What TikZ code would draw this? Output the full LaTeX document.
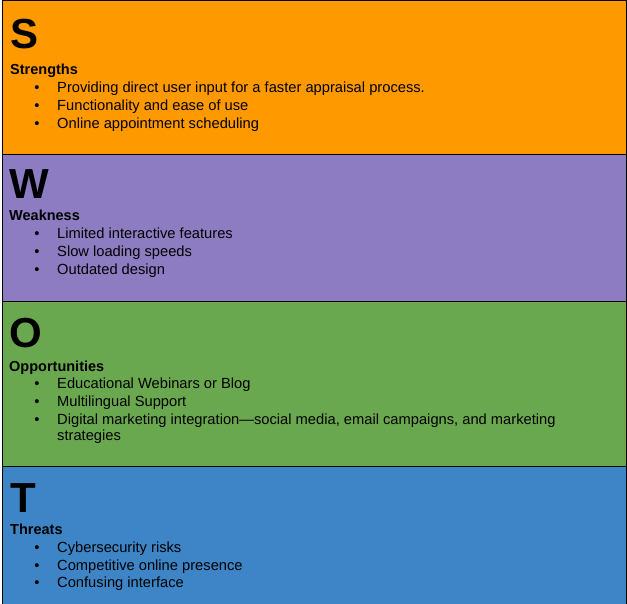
\documentclass[tikz,border=0pt]{standalone}
\usepackage{fontspec}
\setmainfont{Liberation Sans}
\definecolor{sOrange}{HTML}{FF9900}
\definecolor{wPurple}{HTML}{8E7CC3}
\definecolor{oGreen}{HTML}{6AA84F}
\definecolor{tBlue}{HTML}{3D85C6}
\tikzset{
  band/.style={draw=black, line width=1pt},
  letter/.style={anchor=base west, inner sep=0pt, font=\fontsize{42}{42}\selectfont\bfseries},
  heading/.style={anchor=base west, inner sep=0pt, font=\fontsize{14.5}{16}\selectfont\bfseries},
  item/.style={anchor=base west, inner sep=0pt, font=\fontsize{14.7}{17}\selectfont},
  dot/.style={anchor=base, inner sep=0pt, font=\fontsize{14.7}{17}\selectfont},
}
\begin{document}
\begin{tikzpicture}[x=1pt,y=-1pt]
\useasboundingbox (0,0) rectangle (627,604);
% coloured bands
\draw[band, fill=sOrange] (2,1) rectangle (626,155);
\draw[band, fill=wPurple] (2,155) rectangle (626,302);
\draw[band, fill=oGreen] (2,302) rectangle (626,466);
\draw[band, fill=tBlue] (2,466) rectangle (626,606);

% Strengths
\node[letter] (s) at (10,49) {S};
\node[heading] (sh) at (10,75) {Strengths};
\node[dot] (sb1) at (37,93) {•};
\node[item] (s1) at (57,93) {Providing direct user input for a faster appraisal process.};
\node[dot] (sb2) at (37,111) {•};
\node[item] (s2) at (57,111) {Functionality and ease of use};
\node[dot] (sb3) at (37,129) {•};
\node[item] (s3) at (57,129) {Online appointment scheduling};

% Weakness
\node[letter] (w) at (9,199) {W};
\node[heading] (wh) at (9,221) {Weakness};
\node[dot] (wb1) at (37,239) {•};
\node[item] (w1) at (57,239) {Limited interactive features};
\node[dot] (wb2) at (37,257) {•};
\node[item] (w2) at (57,257) {Slow loading speeds};
\node[dot] (wb3) at (37,275) {•};
\node[item] (w3) at (57,275) {Outdated design};

% Opportunities
\node[letter] (o) at (9,347) {O};
\node[heading] (oh) at (9,371) {Opportunities};
\node[dot] (ob1) at (37,388) {•};
\node[item] (o1) at (57,388) {Educational Webinars or Blog};
\node[dot] (ob2) at (37,406) {•};
\node[item] (o2) at (57,406) {Multilingual Support};
\node[dot] (ob3) at (37,424) {•};
\node[item] (o3) at (57,424) {Digital marketing integration—social media, email campaigns, and marketing};
\node[item] (o3b) at (57,440) {strategies};

% Threats
\node[letter] (t) at (10,512) {T};
\node[heading] (th) at (10,534) {Threats};
\node[dot] (tb1) at (37,552) {•};
\node[item] (t1) at (57,552) {Cybersecurity risks};
\node[dot] (tb2) at (37,570) {•};
\node[item] (t2) at (57,570) {Competitive online presence};
\node[dot] (tb3) at (37,587) {•};
\node[item] (t3) at (57,587) {Confusing interface};
\end{tikzpicture}
\end{document}
